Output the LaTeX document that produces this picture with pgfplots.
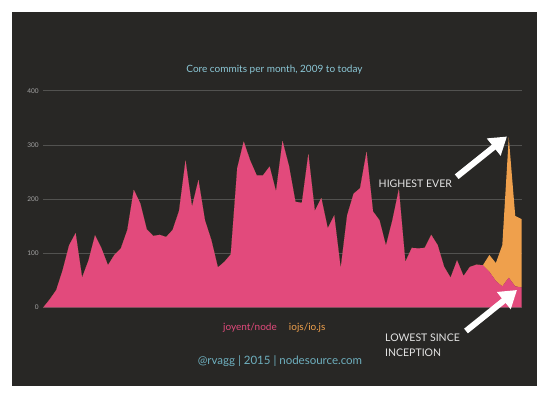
\documentclass[border=0pt]{standalone}
\usepackage{pgfplots}
\pgfplotsset{compat=1.18}
\usepackage{pgfplotstable}
\usepackage{fontspec}
\setmainfont{Lato}
\usetikzlibrary{arrows.meta}
\definecolor{bg}{RGB}{40,39,37}
\definecolor{nodepink}{RGB}{226,74,124}
\definecolor{iojsorange}{RGB}{239,160,76}
\definecolor{titleteal}{RGB}{140,200,215}
\definecolor{footteal}{RGB}{110,175,190}
\definecolor{gridgray}{RGB}{82,82,80}
\definecolor{ticklab}{RGB}{165,165,165}
\definecolor{annot}{RGB}{228,228,228}

\pgfplotstableread{
idx node iojs
0 0 0
1 15 0
2 32 0
3 69 0
4 115 0
5 137 0
6 55 0
7 87 0
8 133 0
9 109 0
10 78 0
11 97 0
12 109 0
13 143 0
14 217 0
15 192 0
16 144 0
17 132 0
18 134 0
19 130 0
20 143 0
21 178 0
22 271 0
23 186 0
24 235 0
25 161 0
26 124 0
27 74 0
28 84 0
29 98 0
30 257 0
31 306 0
32 271 0
33 244 0
34 244 0
35 260 0
36 214 0
37 307 0
38 261 0
39 195 0
40 193 0
41 283 0
42 178 0
43 202 0
44 146 0
45 170 0
46 72 0
47 170 0
48 210 0
49 220 0
50 287 0
51 177 0
52 161 0
53 114 0
54 161 0
55 218 0
56 84 0
57 110 0
58 109 0
59 110 0
60 134 0
61 115 0
62 75 0
63 55 0
64 87 0
65 58 0
66 75 0
67 79 0
68 78 0
69 66 31
70 49 33
71 39 76
72 55 259
73 39 130
74 37 126
}\commits

\begin{document}
\begin{tikzpicture}[x=1pt,y=1pt]
\fill[white] (0,0) rectangle (547,397);
\fill[bg] (12,11) rectangle (537,385);
\begin{axis}[
  at={(43.3pt,89.5pt)}, anchor=south west,
  scale only axis, width=478.4pt, height=216.8pt,
  xmin=0, xmax=74, ymin=0, ymax=400,
  axis line style={draw=none},
  xtick=\empty,
  ytick={0,100,200,300,400},
  major tick length=0pt,
  ymajorgrids,
  grid style={color=gridgray, line width=0.5pt},
  /pgf/number format/assume math mode=true,
  yticklabel style={font=\fontsize{6.5}{7}\selectfont, color=ticklab, xshift=-1pt},
  stack plots=y,
  clip=false,
]
\addplot[fill=nodepink, draw=none] table[x=idx, y=node] {\commits} \closedcycle;
\addplot[fill=iojsorange, draw=none] table[x=idx, y=iojs] {\commits} \closedcycle;
\end{axis}
\node[font=\fontsize{10}{12}\selectfont, color=titleteal] at (274.5,327.7) {Core commits per month, 2009 to today};
\node[font=\fontsize{10}{12}\selectfont, color=nodepink] at (250,69.7) {joyent/node};
\node[font=\fontsize{10}{12}\selectfont, color=iojsorange] at (307.2,69.7) {iojs/io.js};
\node[font=\fontsize{11.5}{13}\selectfont, color=footteal] at (280,36.3) {@rvagg | 2015 | nodesource.com};
\node[font=\fontsize{10.5}{12}\selectfont, color=annot] at (415.3,213.7) {HIGHEST EVER};
\node[font=\fontsize{10.5}{12}\selectfont, color=annot, anchor=west, inner sep=0pt] at (385,59.7) {LOWEST SINCE};
\node[font=\fontsize{10.5}{12}\selectfont, color=annot, anchor=west, inner sep=0pt] at (385,44.3) {INCEPTION};
\draw[white, line width=6pt, -{Triangle[length=17pt, width=21pt]}] (456.7,220.3) -- (507,260.5);
\draw[white, line width=6pt, -{Triangle[length=17pt, width=21pt]}] (466,66) -- (517,107);
\end{tikzpicture}
\end{document}
